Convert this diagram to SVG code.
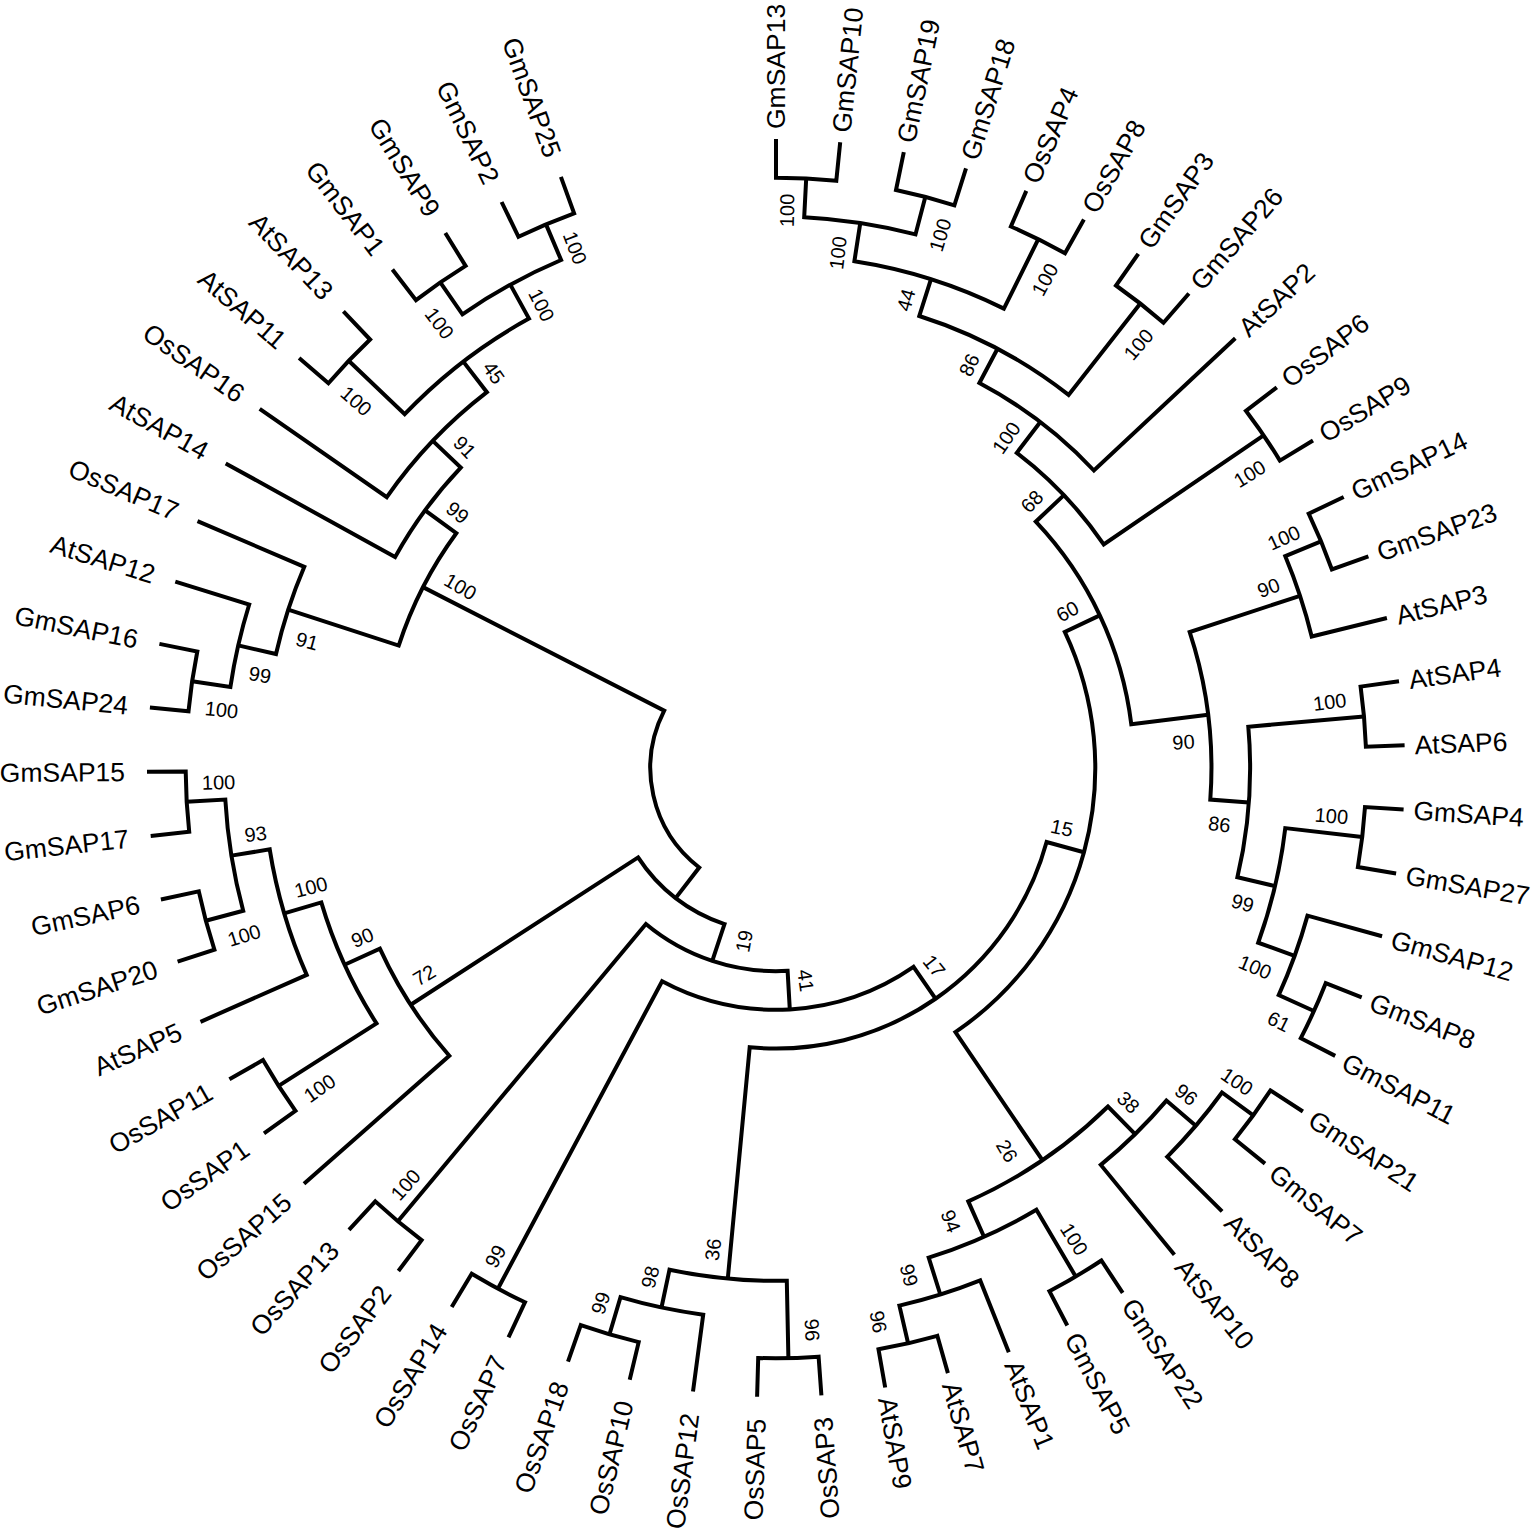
<svg xmlns="http://www.w3.org/2000/svg" width="1535" height="1529" viewBox="0 0 1535 1529">
<style>
.br{fill:none;stroke:#000;stroke-width:4;stroke-linejoin:miter;stroke-linecap:butt}
.tip{font-family:"Liberation Sans",Arial,sans-serif;font-size:26.5px;fill:#000}
.s{text-anchor:start}
.e{text-anchor:end}
.bs{font-family:"Liberation Sans",Arial,sans-serif;font-size:20px;fill:#000;text-anchor:middle}
</style>
<rect width="1535" height="1529" fill="#fff"/>
<g id="connectors">
<path class="br" d="M776,139 L776,177.7 A590.28,590.28 0 0 1 836.3,180.8 L840.2,142.3"/>
<path class="br" d="M903.8,152.1 L896,190 A590.28,590.28 0 0 1 954.4,205.3 L966,168.4"/>
<path class="br" d="M806.2,178.5 L804.2,217.2 A551.56,551.56 0 0 1 915.5,234.4 L925.3,196.9"/>
<path class="br" d="M1026.3,190.9 L1010.9,226.5 A590.28,590.28 0 0 1 1065,253.3 L1083.9,219.5"/>
<path class="br" d="M860.3,222.9 L854.4,261.2 A512.84,512.84 0 0 1 1003.9,308.6 L1038.3,239.2"/>
<path class="br" d="M1138.3,253.8 L1116,285.5 A590.28,590.28 0 0 1 1163.5,322.7 L1188.9,293.5"/>
<path class="br" d="M931,279.1 L919.3,316 A474.12,474.12 0 0 1 1068.6,394.9 L1140.3,303.5"/>
<path class="br" d="M997.5,348.8 L979.4,383 A435.4,435.4 0 0 1 1093.9,470.5 L1235.3,338.2"/>
<path class="br" d="M1276.8,387.3 L1245.9,410.8 A590.28,590.28 0 0 1 1279.9,460.6 L1313,440.5"/>
<path class="br" d="M1040.3,422 L1016.8,452.8 A396.68,396.68 0 0 1 1103.7,544.4 L1263.6,435.3"/>
<path class="br" d="M1343.7,497 L1308.7,513.7 A590.28,590.28 0 0 1 1331.9,569.5 L1368.4,556.4"/>
<path class="br" d="M1321,541.3 L1285.3,556.2 A551.56,551.56 0 0 1 1311.7,636.5 L1386.9,618"/>
<path class="br" d="M1399,681.2 L1360.6,686.6 A590.28,590.28 0 0 1 1365.9,746.7 L1404.6,745.3"/>
<path class="br" d="M1403.6,809.6 L1365,807.1 A590.28,590.28 0 0 1 1357.9,867 L1396.1,873.5"/>
<path class="br" d="M1361.7,997.3 L1325.7,983.2 A590.28,590.28 0 0 1 1300.8,1038.2 L1335.2,1055.9"/>
<path class="br" d="M1382.1,936.3 L1307.5,915.6 A551.56,551.56 0 0 1 1278.7,995.1 L1313.9,1011"/>
<path class="br" d="M1362.2,837.1 L1285.3,828.1 A512.84,512.84 0 0 1 1258.2,942.7 L1294.6,955.9"/>
<path class="br" d="M1364,716.6 L1248.3,726.7 A474.12,474.12 0 0 1 1237.4,877.2 L1275,886.1"/>
<path class="br" d="M1300,595.8 L1189.7,632.1 A435.4,435.4 0 0 1 1210.3,799.6 L1248.9,802.4"/>
<path class="br" d="M1063.9,495.1 L1035.8,521.7 A357.96,357.96 0 0 1 1131.3,724.3 L1208.1,714.8"/>
<path class="br" d="M1302.9,1111.5 L1270.5,1090.4 A590.28,590.28 0 0 1 1234.9,1139.2 L1265,1163.6"/>
<path class="br" d="M1253.3,1115.3 L1222,1092.5 A551.56,551.56 0 0 1 1167.2,1156.8 L1222.1,1211.4"/>
<path class="br" d="M1195.8,1125.7 L1166.4,1100.6 A512.84,512.84 0 0 1 1100.8,1164.9 L1174.4,1254.8"/>
<path class="br" d="M947.9,1373.1 L937.3,1335.8 A590.28,590.28 0 0 1 878.5,1349.3 L885.2,1387.5"/>
<path class="br" d="M1008.8,1352.3 L980.2,1280.4 A551.56,551.56 0 0 1 899.4,1305.6 L908.1,1343.3"/>
<path class="br" d="M1122.7,1292.8 L1101.4,1260.5 A590.28,590.28 0 0 1 1049.4,1291.2 L1067.3,1325.5"/>
<path class="br" d="M1075.7,1276.5 L1036.4,1209.8 A512.84,512.84 0 0 1 928.7,1257.6 L940.3,1294.5"/>
<path class="br" d="M1135.1,1134.2 L1108,1106.5 A474.12,474.12 0 0 1 968.3,1201.4 L984,1236.8"/>
<path class="br" d="M1099.8,615.4 L1064.8,631.9 A319.24,319.24 0 0 1 955.4,1032.1 L1042.4,1160.2"/>
<path class="br" d="M821.4,1395.4 L818.6,1356.7 A590.28,590.28 0 0 1 758.2,1358 L757.1,1396.7"/>
<path class="br" d="M629.7,1379.8 L638.7,1342.1 A590.28,590.28 0 0 1 580.8,1325.1 L568,1361.6"/>
<path class="br" d="M693,1391.5 L703.2,1314.7 A551.56,551.56 0 0 1 620.5,1297.2 L609.5,1334.3"/>
<path class="br" d="M788.4,1358.2 L786.8,1280.7 A512.84,512.84 0 0 1 669.5,1269.7 L661.5,1307.5"/>
<path class="br" d="M1083.9,852.2 L1046.6,842 A280.52,280.52 0 0 1 749.7,1047.3 L727.8,1278.6"/>
<path class="br" d="M508.5,1337.3 L525,1302.2 A590.28,590.28 0 0 1 471.7,1273.8 L451.7,1307"/>
<path class="br" d="M935.5,998.7 L913.5,966.9 A241.8,241.8 0 0 1 662.1,981.3 L497.9,1288.7"/>
<path class="br" d="M398.4,1271 L421.6,1240.1 A590.28,590.28 0 0 1 375.3,1201.4 L349,1229.8"/>
<path class="br" d="M789.8,1009.4 L787.6,970.8 A203.08,203.08 0 0 1 645.9,924 L397.9,1221.3"/>
<path class="br" d="M264,1133.4 L295.5,1110.9 A590.28,590.28 0 0 1 263,1060.1 L229.4,1079.2"/>
<path class="br" d="M177.6,961.7 L214.4,949.7 A590.28,590.28 0 0 1 198.8,891.4 L160.9,899.5"/>
<path class="br" d="M150.7,836 L189.2,831.8 A590.28,590.28 0 0 1 185.7,771.6 L147,771.8"/>
<path class="br" d="M205.8,920.8 L243.2,910.8 A551.56,551.56 0 0 1 225.3,799.5 L186.7,801.7"/>
<path class="br" d="M200.5,1021.8 L306.7,974.9 A512.84,512.84 0 0 1 269.7,849.4 L231.4,855.6"/>
<path class="br" d="M278.6,1085.9 L376.5,1023.4 A474.12,474.12 0 0 1 321.3,902.4 L284.2,913.4"/>
<path class="br" d="M304,1183.8 L449.3,1055.8 A435.4,435.4 0 0 1 379.9,948.7 L344.6,964.8"/>
<path class="br" d="M712.3,960.8 L724.5,924.1 A164.36,164.36 0 0 1 638.1,857.4 L410.7,1004.8"/>
<path class="br" d="M149.9,707.5 L188.5,711.3 A590.28,590.28 0 0 1 197.3,651.5 L159.4,643.9"/>
<path class="br" d="M192.1,681.3 L230.4,687 A551.56,551.56 0 0 1 249.2,604.5 L175.3,581.6"/>
<path class="br" d="M238.2,645.4 L276,654 A512.84,512.84 0 0 1 304.3,566.8 L197.5,521.2"/>
<path class="br" d="M299.1,357.9 L328.4,383.2 A590.28,590.28 0 0 1 370.1,339.5 L343.4,311.4"/>
<path class="br" d="M392.4,269.5 L416,300.2 A590.28,590.28 0 0 1 465.6,265.9 L445.3,233"/>
<path class="br" d="M501.6,202 L518.5,236.8 A590.28,590.28 0 0 1 574.1,213.3 L560.9,176.9"/>
<path class="br" d="M440.3,282.4 L462.4,314.3 A551.56,551.56 0 0 1 561.1,260 L546,224.4"/>
<path class="br" d="M348.7,360.8 L404.7,414.2 A512.84,512.84 0 0 1 529,318.6 L510.3,284.6"/>
<path class="br" d="M259.7,408.8 L386.8,497.2 A474.12,474.12 0 0 1 486.9,392.2 L463.3,361.6"/>
<path class="br" d="M225.7,463.4 L395.1,557.1 A435.4,435.4 0 0 1 460.8,467.6 L432.8,440.9"/>
<path class="br" d="M288.2,609.7 L398.7,645.6 A396.68,396.68 0 0 1 456.3,533.2 L425.1,510.3"/>
<path class="br" d="M675.6,898.1 L699.2,867.5 A125.64,125.64 0 0 1 664.2,710.7 L423,587.1"/>
</g>
<g id="leaves" class="tip">
<g id="leaf-GmSAP13"><text class="s" x="776" y="129" dy="0.35em" transform="rotate(-90 776 129)">GmSAP13</text></g>
<g id="leaf-GmSAP10"><text class="s" x="841.3" y="132.3" dy="0.35em" transform="rotate(-84.14 841.3 132.3)">GmSAP10</text></g>
<g id="leaf-GmSAP19"><text class="s" x="905.8" y="142.3" dy="0.35em" transform="rotate(-78.28 905.8 142.3)">GmSAP19</text></g>
<g id="leaf-GmSAP18"><text class="s" x="969.1" y="158.9" dy="0.35em" transform="rotate(-72.41 969.1 158.9)">GmSAP18</text></g>
<g id="leaf-OsSAP4"><text class="s" x="1030.3" y="181.8" dy="0.35em" transform="rotate(-66.55 1030.3 181.8)">OsSAP4</text></g>
<g id="leaf-OsSAP8"><text class="s" x="1088.8" y="210.8" dy="0.35em" transform="rotate(-60.69 1088.8 210.8)">OsSAP8</text></g>
<g id="leaf-GmSAP3"><text class="s" x="1144.1" y="245.7" dy="0.35em" transform="rotate(-54.83 1144.1 245.7)">GmSAP3</text></g>
<g id="leaf-GmSAP26"><text class="s" x="1195.5" y="286" dy="0.35em" transform="rotate(-48.97 1195.5 286)">GmSAP26</text></g>
<g id="leaf-AtSAP2"><text class="s" x="1242.6" y="331.4" dy="0.35em" transform="rotate(-43.1 1242.6 331.4)">AtSAP2</text></g>
<g id="leaf-OsSAP6"><text class="s" x="1284.7" y="381.3" dy="0.35em" transform="rotate(-37.24 1284.7 381.3)">OsSAP6</text></g>
<g id="leaf-OsSAP9"><text class="s" x="1321.5" y="435.3" dy="0.35em" transform="rotate(-31.38 1321.5 435.3)">OsSAP9</text></g>
<g id="leaf-GmSAP14"><text class="s" x="1352.7" y="492.7" dy="0.35em" transform="rotate(-25.52 1352.7 492.7)">GmSAP14</text></g>
<g id="leaf-GmSAP23"><text class="s" x="1377.8" y="553.1" dy="0.35em" transform="rotate(-19.66 1377.8 553.1)">GmSAP23</text></g>
<g id="leaf-AtSAP3"><text class="s" x="1396.6" y="615.7" dy="0.35em" transform="rotate(-13.79 1396.6 615.7)">AtSAP3</text></g>
<g id="leaf-AtSAP4"><text class="s" x="1408.9" y="679.8" dy="0.35em" transform="rotate(-7.93 1408.9 679.8)">AtSAP4</text></g>
<g id="leaf-AtSAP6"><text class="s" x="1414.6" y="744.9" dy="0.35em" transform="rotate(-2.07 1414.6 744.9)">AtSAP6</text></g>
<g id="leaf-GmSAP4"><text class="s" x="1413.6" y="810.3" dy="0.35em" transform="rotate(3.79 1413.6 810.3)">GmSAP4</text></g>
<g id="leaf-GmSAP27"><text class="s" x="1406" y="875.2" dy="0.35em" transform="rotate(9.66 1406 875.2)">GmSAP27</text></g>
<g id="leaf-GmSAP12"><text class="s" x="1391.7" y="939" dy="0.35em" transform="rotate(15.52 1391.7 939)">GmSAP12</text></g>
<g id="leaf-GmSAP8"><text class="s" x="1371" y="1001" dy="0.35em" transform="rotate(21.38 1371 1001)">GmSAP8</text></g>
<g id="leaf-GmSAP11"><text class="s" x="1344.1" y="1060.5" dy="0.35em" transform="rotate(27.24 1344.1 1060.5)">GmSAP11</text></g>
<g id="leaf-GmSAP21"><text class="s" x="1311.3" y="1117" dy="0.35em" transform="rotate(33.1 1311.3 1117)">GmSAP21</text></g>
<g id="leaf-GmSAP7"><text class="s" x="1272.8" y="1169.9" dy="0.35em" transform="rotate(38.97 1272.8 1169.9)">GmSAP7</text></g>
<g id="leaf-AtSAP8"><text class="s" x="1229.2" y="1218.5" dy="0.35em" transform="rotate(44.83 1229.2 1218.5)">AtSAP8</text></g>
<g id="leaf-AtSAP10"><text class="s" x="1180.7" y="1262.5" dy="0.35em" transform="rotate(50.69 1180.7 1262.5)">AtSAP10</text></g>
<g id="leaf-GmSAP22"><text class="s" x="1128.2" y="1301.2" dy="0.35em" transform="rotate(56.55 1128.2 1301.2)">GmSAP22</text></g>
<g id="leaf-GmSAP5"><text class="s" x="1071.9" y="1334.4" dy="0.35em" transform="rotate(62.41 1071.9 1334.4)">GmSAP5</text></g>
<g id="leaf-AtSAP1"><text class="s" x="1012.5" y="1361.6" dy="0.35em" transform="rotate(68.28 1012.5 1361.6)">AtSAP1</text></g>
<g id="leaf-AtSAP7"><text class="s" x="950.7" y="1382.7" dy="0.35em" transform="rotate(74.14 950.7 1382.7)">AtSAP7</text></g>
<g id="leaf-AtSAP9"><text class="s" x="887" y="1397.3" dy="0.35em" transform="rotate(80 887 1397.3)">AtSAP9</text></g>
<g id="leaf-OsSAP3"><text class="e" x="823" y="1417.3" dy="0.35em" transform="rotate(-94.14 823 1417.3)">OsSAP3</text></g>
<g id="leaf-OsSAP5"><text class="e" x="756.4" y="1418.7" dy="0.35em" transform="rotate(-88.28 756.4 1418.7)">OsSAP5</text></g>
<g id="leaf-OsSAP12"><text class="e" x="690.1" y="1413.3" dy="0.35em" transform="rotate(-82.41 690.1 1413.3)">OsSAP12</text></g>
<g id="leaf-OsSAP10"><text class="e" x="624.6" y="1401.2" dy="0.35em" transform="rotate(-76.55 624.6 1401.2)">OsSAP10</text></g>
<g id="leaf-OsSAP18"><text class="e" x="560.7" y="1382.4" dy="0.35em" transform="rotate(-70.69 560.7 1382.4)">OsSAP18</text></g>
<g id="leaf-OsSAP7"><text class="e" x="499.1" y="1357.2" dy="0.35em" transform="rotate(-64.83 499.1 1357.2)">OsSAP7</text></g>
<g id="leaf-OsSAP14"><text class="e" x="440.4" y="1325.8" dy="0.35em" transform="rotate(-58.97 440.4 1325.8)">OsSAP14</text></g>
<g id="leaf-OsSAP2"><text class="e" x="385.2" y="1288.6" dy="0.35em" transform="rotate(-53.1 385.2 1288.6)">OsSAP2</text></g>
<g id="leaf-OsSAP13"><text class="e" x="334" y="1246" dy="0.35em" transform="rotate(-47.24 334 1246)">OsSAP13</text></g>
<g id="leaf-OsSAP15"><text class="e" x="287.5" y="1198.3" dy="0.35em" transform="rotate(-41.38 287.5 1198.3)">OsSAP15</text></g>
<g id="leaf-OsSAP1"><text class="e" x="246.1" y="1146.2" dy="0.35em" transform="rotate(-35.52 246.1 1146.2)">OsSAP1</text></g>
<g id="leaf-OsSAP11"><text class="e" x="210.3" y="1090.1" dy="0.35em" transform="rotate(-29.66 210.3 1090.1)">OsSAP11</text></g>
<g id="leaf-AtSAP5"><text class="e" x="180.3" y="1030.6" dy="0.35em" transform="rotate(-23.79 180.3 1030.6)">AtSAP5</text></g>
<g id="leaf-GmSAP20"><text class="e" x="156.6" y="968.4" dy="0.35em" transform="rotate(-17.93 156.6 968.4)">GmSAP20</text></g>
<g id="leaf-GmSAP6"><text class="e" x="139.4" y="904.1" dy="0.35em" transform="rotate(-12.07 139.4 904.1)">GmSAP6</text></g>
<g id="leaf-GmSAP17"><text class="e" x="128.8" y="838.4" dy="0.35em" transform="rotate(-6.21 128.8 838.4)">GmSAP17</text></g>
<g id="leaf-GmSAP15"><text class="e" x="125" y="771.9" dy="0.35em" transform="rotate(-0.34 125 771.9)">GmSAP15</text></g>
<g id="leaf-GmSAP24"><text class="e" x="128" y="705.4" dy="0.35em" transform="rotate(5.52 128 705.4)">GmSAP24</text></g>
<g id="leaf-GmSAP16"><text class="e" x="137.8" y="639.6" dy="0.35em" transform="rotate(11.38 137.8 639.6)">GmSAP16</text></g>
<g id="leaf-AtSAP12"><text class="e" x="154.3" y="575" dy="0.35em" transform="rotate(17.24 154.3 575)">AtSAP12</text></g>
<g id="leaf-OsSAP17"><text class="e" x="177.2" y="512.6" dy="0.35em" transform="rotate(23.1 177.2 512.6)">OsSAP17</text></g>
<g id="leaf-AtSAP14"><text class="e" x="206.4" y="452.7" dy="0.35em" transform="rotate(28.97 206.4 452.7)">AtSAP14</text></g>
<g id="leaf-OsSAP16"><text class="e" x="241.6" y="396.2" dy="0.35em" transform="rotate(34.83 241.6 396.2)">OsSAP16</text></g>
<g id="leaf-AtSAP11"><text class="e" x="282.4" y="343.6" dy="0.35em" transform="rotate(40.69 282.4 343.6)">AtSAP11</text></g>
<g id="leaf-AtSAP13"><text class="e" x="328.3" y="295.4" dy="0.35em" transform="rotate(46.55 328.3 295.4)">AtSAP13</text></g>
<g id="leaf-GmSAP1"><text class="e" x="379" y="252.1" dy="0.35em" transform="rotate(52.41 379 252.1)">GmSAP1</text></g>
<g id="leaf-GmSAP9"><text class="e" x="433.7" y="214.3" dy="0.35em" transform="rotate(58.28 433.7 214.3)">GmSAP9</text></g>
<g id="leaf-GmSAP2"><text class="e" x="492" y="182.2" dy="0.35em" transform="rotate(64.14 492 182.2)">GmSAP2</text></g>
<g id="leaf-GmSAP25"><text class="e" x="553.3" y="156.3" dy="0.35em" transform="rotate(70 553.3 156.3)">GmSAP25</text></g>
</g>
<g id="bootstrap" class="bs">
<g id="node-A1"><text x="787" y="210.5" dy="0.35em" transform="rotate(-88.87 787 210.5)">100</text></g>
<g id="node-A2"><text x="940.2" y="235.1" dy="0.35em" transform="rotate(-72.88 940.2 235.1)">100</text></g>
<g id="node-A3"><text x="838" y="252.9" dy="0.35em" transform="rotate(-83.14 838 252.9)">100</text></g>
<g id="node-A4"><text x="1045" y="279.6" dy="0.35em" transform="rotate(-61.16 1045 279.6)">100</text></g>
<g id="node-A5"><text x="906" y="300" dy="0.35em" transform="rotate(-74.48 906 300)">44</text></g>
<g id="node-A6"><text x="1138.6" y="344.5" dy="0.35em" transform="rotate(-49.43 1138.6 344.5)">100</text></g>
<g id="node-A7"><text x="969.2" y="364.9" dy="0.35em" transform="rotate(-64.4 969.2 364.9)">86</text></g>
<g id="node-A8"><text x="1006.3" y="437.7" dy="0.35em" transform="rotate(-55.12 1006.3 437.7)">100</text></g>
<g id="node-A9"><text x="1249.7" y="473.8" dy="0.35em" transform="rotate(-31.84 1249.7 473.8)">100</text></g>
<g id="node-A10"><text x="1031.9" y="501.3" dy="0.35em" transform="rotate(-46.18 1031.9 501.3)">68</text></g>
<g id="node-B1"><text x="1283.9" y="537.8" dy="0.35em" transform="rotate(-24.38 1283.9 537.8)">100</text></g>
<g id="node-B2"><text x="1268.5" y="587.8" dy="0.35em" transform="rotate(-20.1 1268.5 587.8)">90</text></g>
<g id="node-B3"><text x="1329.7" y="702" dy="0.35em" transform="rotate(-6.8 1329.7 702)">100</text></g>
<g id="node-B4"><text x="1331.5" y="815.9" dy="0.35em" transform="rotate(4.93 1331.5 815.9)">100</text></g>
<g id="node-B5"><text x="1278.9" y="1021.5" dy="0.35em" transform="rotate(26.75 1278.9 1021.5)">61</text></g>
<g id="node-B6"><text x="1255.1" y="967.1" dy="0.35em" transform="rotate(22.56 1255.1 967.1)">100</text></g>
<g id="node-B7"><text x="1242.6" y="903.1" dy="0.35em" transform="rotate(16.15 1242.6 903.1)">99</text></g>
<g id="node-B8"><text x="1219.5" y="824.3" dy="0.35em" transform="rotate(7.24 1219.5 824.3)">86</text></g>
<g id="node-B9"><text x="1183.5" y="742" dy="0.35em" transform="rotate(-3.65 1183.5 742)">90</text></g>
<g id="node-N60"><text x="1067.4" y="611.3" dy="0.35em" transform="rotate(-28.27 1067.4 611.3)">60</text></g>
<g id="node-C1"><text x="1237" y="1081.7" dy="0.35em" transform="rotate(34.24 1237 1081.7)">100</text></g>
<g id="node-C2"><text x="1186.3" y="1094.6" dy="0.35em" transform="rotate(38.52 1186.3 1094.6)">96</text></g>
<g id="node-C3"><text x="1128.4" y="1102.3" dy="0.35em" transform="rotate(43.5 1128.4 1102.3)">38</text></g>
<g id="node-C4"><text x="878.5" y="1321.8" dy="0.35em" transform="rotate(79.51 878.5 1321.8)">96</text></g>
<g id="node-C5"><text x="909.1" y="1275.3" dy="0.35em" transform="rotate(75.29 909.1 1275.3)">99</text></g>
<g id="node-C6"><text x="1074.1" y="1239.2" dy="0.35em" transform="rotate(57.69 1074.1 1239.2)">100</text></g>
<g id="node-C7"><text x="950.8" y="1221.2" dy="0.35em" transform="rotate(68.91 950.8 1221.2)">94</text></g>
<g id="node-C8"><text x="1006.9" y="1150.8" dy="0.35em" transform="rotate(58.9 1006.9 1150.8)">26</text></g>
<g id="node-N15"><text x="1061.9" y="828" dy="0.35em" transform="rotate(11.86 1061.9 828)">15</text></g>
<g id="node-D1"><text x="811.9" y="1330" dy="0.35em" transform="rotate(-93.65 811.9 1330)">96</text></g>
<g id="node-D2"><text x="600.5" y="1303.1" dy="0.35em" transform="rotate(-71.84 600.5 1303.1)">99</text></g>
<g id="node-D3"><text x="650.1" y="1277.1" dy="0.35em" transform="rotate(-76.11 650.1 1277.1)">98</text></g>
<g id="node-D4"><text x="713" y="1249.6" dy="0.35em" transform="rotate(-82.55 713 1249.6)">36</text></g>
<g id="node-N17"><text x="934.2" y="966" dy="0.35em" transform="rotate(51.38 934.2 966)">17</text></g>
<g id="node-E1"><text x="495.4" y="1256.3" dy="0.35em" transform="rotate(-60.12 495.4 1256.3)">99</text></g>
<g id="node-N41"><text x="805.7" y="980.6" dy="0.35em" transform="rotate(82.05 805.7 980.6)">41</text></g>
<g id="node-E2"><text x="405.6" y="1184.8" dy="0.35em" transform="rotate(-48.37 405.6 1184.8)">100</text></g>
<g id="node-N19"><text x="744.1" y="941.1" dy="0.35em" transform="rotate(-79.54 744.1 941.1)">19</text></g>
<g id="node-F1"><text x="319.6" y="1088.2" dy="0.35em" transform="rotate(-35.05 319.6 1088.2)">100</text></g>
<g id="node-F2"><text x="244.1" y="935.4" dy="0.35em" transform="rotate(-17.47 244.1 935.4)">100</text></g>
<g id="node-F3"><text x="218.6" y="782.4" dy="0.35em" transform="rotate(-1.48 218.6 782.4)">100</text></g>
<g id="node-F4"><text x="255.7" y="834" dy="0.35em" transform="rotate(-7.23 255.7 834)">93</text></g>
<g id="node-F5"><text x="310.9" y="887.2" dy="0.35em" transform="rotate(-14.38 310.9 887.2)">100</text></g>
<g id="node-F6"><text x="362.4" y="937.5" dy="0.35em" transform="rotate(-22.28 362.4 937.5)">90</text></g>
<g id="node-F7"><text x="424.2" y="975.2" dy="0.35em" transform="rotate(-30.5 424.2 975.2)">72</text></g>
<g id="node-G1"><text x="221.5" y="709.9" dy="0.35em" transform="rotate(5.98 221.5 709.9)">100</text></g>
<g id="node-G2"><text x="259.9" y="674.9" dy="0.35em" transform="rotate(10.22 259.9 674.9)">99</text></g>
<g id="node-G3"><text x="307.1" y="641.1" dy="0.35em" transform="rotate(15.14 307.1 641.1)">91</text></g>
<g id="node-H1"><text x="356.2" y="401.1" dy="0.35em" transform="rotate(41.16 356.2 401.1)">100</text></g>
<g id="node-H2"><text x="439.5" y="323.4" dy="0.35em" transform="rotate(52.88 439.5 323.4)">100</text></g>
<g id="node-H3"><text x="575" y="247.9" dy="0.35em" transform="rotate(68.87 575 247.9)">100</text></g>
<g id="node-H4"><text x="541.6" y="305.1" dy="0.35em" transform="rotate(63.14 541.6 305.1)">100</text></g>
<g id="node-H5"><text x="493.8" y="372.7" dy="0.35em" transform="rotate(54.48 493.8 372.7)">45</text></g>
<g id="node-H6"><text x="464.7" y="447.2" dy="0.35em" transform="rotate(45.86 464.7 447.2)">91</text></g>
<g id="node-H7"><text x="457.6" y="512.5" dy="0.35em" transform="rotate(38.75 457.6 512.5)">99</text></g>
<g id="node-N100"><text x="460.4" y="586.6" dy="0.35em" transform="rotate(29.89 460.4 586.6)">100</text></g>
</g>
</svg>
